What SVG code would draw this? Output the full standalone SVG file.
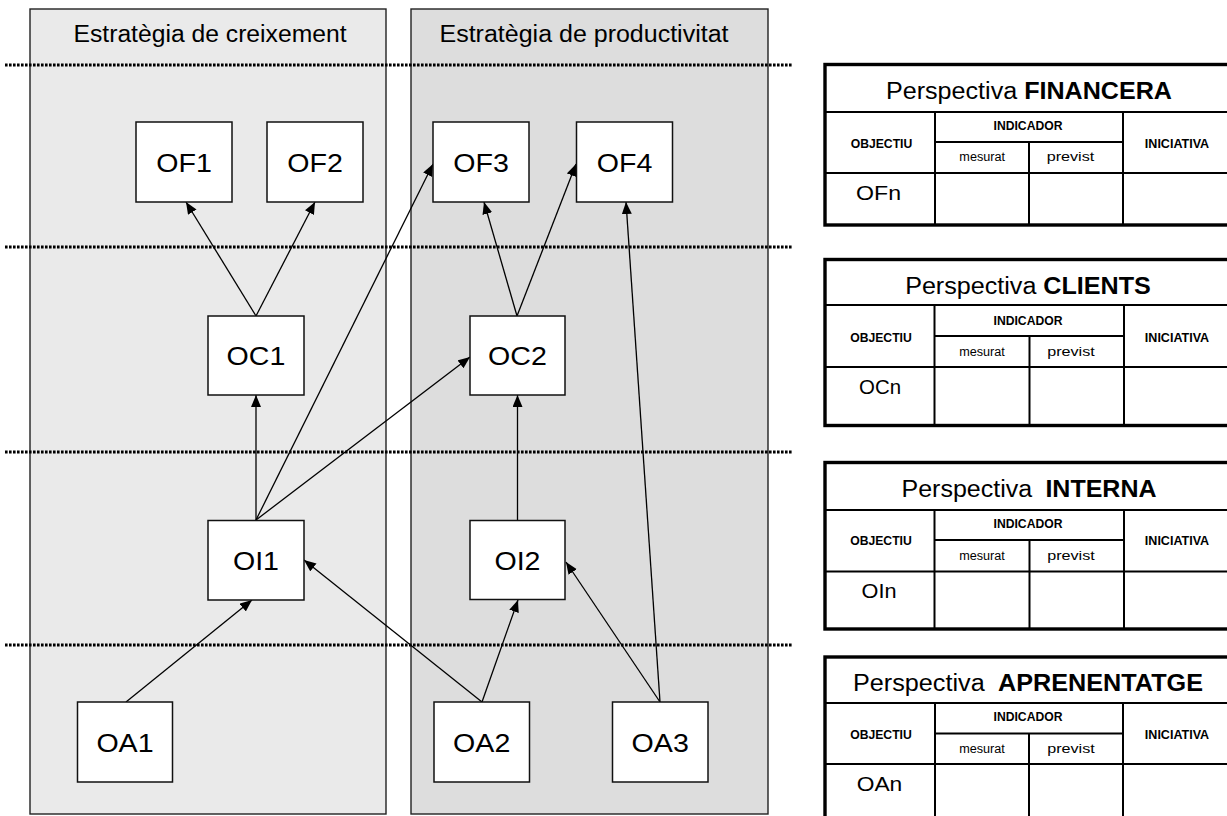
<svg xmlns="http://www.w3.org/2000/svg" width="1227" height="816" viewBox="0 0 1227 816">
  <style>
    .panel { stroke: #222; stroke-width: 1.4; }
    .level { stroke: #000; stroke-width: 2.8; stroke-dasharray: 2.6 1.4; fill: none; }
    .node rect { fill: #fff; stroke: #111; stroke-width: 1.5; }
    .node text, .lbl { font-family: "Liberation Sans", Arial, sans-serif; fill: #000; text-anchor: middle; }
    .node text { font-size: 25.5px; }
    .lbl { font-size: 23px; }
    .edge { stroke: #000; stroke-width: 1.3; fill: none; marker-end: url(#arrow); }
    .tbl .outer { fill: #fff; stroke: #000; stroke-width: 3.4; }
    .tbl line { stroke: #000; stroke-width: 2; }
    .tbl text { font-family: "Liberation Sans", Arial, sans-serif; fill: #000; text-anchor: middle; }
    .tbl .title { font-size: 23.5px; }
    .tbl .hd { font-size: 12.5px; font-weight: bold; }
    .tbl .sub { font-size: 12.5px; }
    .tbl .code { font-size: 21px; }
    .b { font-weight: bold; }
  </style>
  <defs>
    <marker id="arrow" markerUnits="userSpaceOnUse" markerWidth="14" markerHeight="11" refX="12" refY="5" orient="auto">
      <path d="M0,0 L12,5 L0,10 z" fill="#000"/>
    </marker>
  </defs>

  <!-- strategy columns -->
  <g id="panel-creixement">
    <rect class="panel" x="30" y="9" width="356" height="805" fill="#eaeaea"/>
    <text class="lbl" x="210" y="41.5" textLength="273" lengthAdjust="spacingAndGlyphs">Estratègia de creixement</text>
  </g>
  <g id="panel-productivitat">
    <rect class="panel" x="411" y="9" width="357" height="805" fill="#dddddd"/>
    <text class="lbl" x="584" y="42" textLength="289" lengthAdjust="spacingAndGlyphs">Estratègia de productivitat</text>
  </g>

  <!-- perspective separators -->
  <g id="levels">
    <line class="level" x1="5" y1="65" x2="792" y2="65"/>
    <line class="level" x1="5" y1="247" x2="792" y2="247"/>
    <line class="level" x1="5" y1="452" x2="792" y2="452"/>
    <line class="level" x1="5" y1="645" x2="792" y2="645"/>
  </g>

  <!-- cause-effect links -->
  <g id="connectors">
    <line class="edge" x1="256" y1="316" x2="186" y2="202"/>
    <line class="edge" x1="256" y1="316" x2="315" y2="202"/>
    <line class="edge" x1="256" y1="520" x2="256" y2="395"/>
    <line class="edge" x1="256" y1="520" x2="433" y2="164"/>
    <line class="edge" x1="256" y1="520" x2="470" y2="357"/>
    <line class="edge" x1="517" y1="316" x2="484" y2="202"/>
    <line class="edge" x1="517" y1="316" x2="576" y2="164"/>
    <line class="edge" x1="660" y1="702" x2="626" y2="202"/>
    <line class="edge" x1="517.5" y1="520" x2="517.5" y2="395"/>
    <line class="edge" x1="126" y1="702" x2="252" y2="600"/>
    <line class="edge" x1="482" y1="702" x2="304" y2="560"/>
    <line class="edge" x1="482" y1="702" x2="518" y2="600"/>
    <line class="edge" x1="660" y1="702" x2="566" y2="562"/>
  </g>

  <!-- objectives -->
  <g id="OF1" class="node"><rect x="136" y="122" width="96" height="80"/><text x="184" y="172" textLength="55.6" lengthAdjust="spacingAndGlyphs">OF1</text></g>
  <g id="OF2" class="node"><rect x="267" y="122" width="96" height="80"/><text x="315" y="172" textLength="55.6" lengthAdjust="spacingAndGlyphs">OF2</text></g>
  <g id="OF3" class="node"><rect x="433" y="122" width="96" height="80"/><text x="481" y="172" textLength="55.6" lengthAdjust="spacingAndGlyphs">OF3</text></g>
  <g id="OF4" class="node"><rect x="576.5" y="122" width="96" height="80"/><text x="624.5" y="172" textLength="55.6" lengthAdjust="spacingAndGlyphs">OF4</text></g>
  <g id="OC1" class="node"><rect x="208" y="316" width="96" height="79"/><text x="256" y="365" textLength="58.8" lengthAdjust="spacingAndGlyphs">OC1</text></g>
  <g id="OC2" class="node"><rect x="470" y="316" width="95" height="79"/><text x="517.5" y="365" textLength="58.8" lengthAdjust="spacingAndGlyphs">OC2</text></g>
  <g id="OI1" class="node"><rect x="208" y="520.5" width="96" height="79.5"/><text x="256" y="570" textLength="46.1" lengthAdjust="spacingAndGlyphs">OI1</text></g>
  <g id="OI2" class="node"><rect x="470" y="520.5" width="95" height="79"/><text x="517.5" y="570" textLength="46.1" lengthAdjust="spacingAndGlyphs">OI2</text></g>
  <g id="OA1" class="node"><rect x="77.5" y="702" width="95" height="80"/><text x="125" y="751.5" textLength="57.2" lengthAdjust="spacingAndGlyphs">OA1</text></g>
  <g id="OA2" class="node"><rect x="434" y="702" width="95.5" height="80"/><text x="481.7" y="751.5" textLength="57.2" lengthAdjust="spacingAndGlyphs">OA2</text></g>
  <g id="OA3" class="node"><rect x="612.5" y="702" width="95.5" height="80"/><text x="660.2" y="751.5" textLength="57.2" lengthAdjust="spacingAndGlyphs">OA3</text></g>

  <!-- scorecard tables -->
  <g id="table-financera" class="tbl">
    <rect class="outer" x="825" y="64.5" width="410" height="160.5"/>
    <line x1="825" y1="112" x2="1232" y2="112"/>
    <line x1="825" y1="173" x2="1232" y2="173"/>
    <line x1="935" y1="112" x2="935" y2="225"/>
    <line x1="1123" y1="112" x2="1123" y2="225"/>
    <line x1="935" y1="142" x2="1123" y2="142"/>
    <line x1="1029" y1="142" x2="1029" y2="225"/>
    <text class="title" x="1029" y="98.5" textLength="286" lengthAdjust="spacingAndGlyphs">Perspectiva <tspan class="b">FINANCERA</tspan></text>
    <text class="hd" x="1028" y="130" textLength="69" lengthAdjust="spacingAndGlyphs">INDICADOR</text>
    <text class="hd" x="881.5" y="147.5" textLength="61.6" lengthAdjust="spacingAndGlyphs">OBJECTIU</text>
    <text class="hd" x="1177" y="147.5" textLength="64.3" lengthAdjust="spacingAndGlyphs">INICIATIVA</text>
    <text class="sub" x="982.2" y="161" textLength="45.7" lengthAdjust="spacingAndGlyphs">mesurat</text>
    <text class="sub" x="1070.5" y="161" textLength="47.6" lengthAdjust="spacingAndGlyphs">previst</text>
    <text class="code" x="878.5" y="200" textLength="45" lengthAdjust="spacingAndGlyphs">OFn</text>
  </g>

  <g id="table-clients" class="tbl">
    <rect class="outer" x="825" y="259.5" width="410" height="166"/>
    <line x1="825" y1="305" x2="1232" y2="305"/>
    <line x1="825" y1="367" x2="1232" y2="367"/>
    <line x1="934.5" y1="305" x2="934.5" y2="426"/>
    <line x1="1124" y1="305" x2="1124" y2="426"/>
    <line x1="934.5" y1="336" x2="1124" y2="336"/>
    <line x1="1029.5" y1="336" x2="1029.5" y2="426"/>
    <text class="title" x="1028" y="293.5" textLength="245.7" lengthAdjust="spacingAndGlyphs">Perspectiva <tspan class="b">CLIENTS</tspan></text>
    <text class="hd" x="1028" y="324.5" textLength="69" lengthAdjust="spacingAndGlyphs">INDICADOR</text>
    <text class="hd" x="881" y="342" textLength="61.6" lengthAdjust="spacingAndGlyphs">OBJECTIU</text>
    <text class="hd" x="1177" y="342" textLength="64.3" lengthAdjust="spacingAndGlyphs">INICIATIVA</text>
    <text class="sub" x="982" y="356" textLength="45.7" lengthAdjust="spacingAndGlyphs">mesurat</text>
    <text class="sub" x="1071" y="356" textLength="47.6" lengthAdjust="spacingAndGlyphs">previst</text>
    <text class="code" x="880" y="394" textLength="42" lengthAdjust="spacingAndGlyphs">OCn</text>
  </g>

  <g id="table-interna" class="tbl">
    <rect class="outer" x="825" y="462.5" width="410" height="166.5"/>
    <line x1="825" y1="510" x2="1232" y2="510"/>
    <line x1="825" y1="571.5" x2="1232" y2="571.5"/>
    <line x1="934.5" y1="510" x2="934.5" y2="629"/>
    <line x1="1124" y1="510" x2="1124" y2="629"/>
    <line x1="934.5" y1="540" x2="1124" y2="540"/>
    <line x1="1029.5" y1="540" x2="1029.5" y2="629"/>
    <text class="title" x="1029" y="496.5" textLength="255" lengthAdjust="spacingAndGlyphs">Perspectiva <tspan class="b" dx="6">INTERNA</tspan></text>
    <text class="hd" x="1028" y="527.5" textLength="69" lengthAdjust="spacingAndGlyphs">INDICADOR</text>
    <text class="hd" x="881" y="545" textLength="61.6" lengthAdjust="spacingAndGlyphs">OBJECTIU</text>
    <text class="hd" x="1177" y="545" textLength="64.3" lengthAdjust="spacingAndGlyphs">INICIATIVA</text>
    <text class="sub" x="982" y="559.5" textLength="45.7" lengthAdjust="spacingAndGlyphs">mesurat</text>
    <text class="sub" x="1071" y="559.5" textLength="47.6" lengthAdjust="spacingAndGlyphs">previst</text>
    <text class="code" x="879" y="598" textLength="35" lengthAdjust="spacingAndGlyphs">OIn</text>
  </g>

  <g id="table-aprenentatge" class="tbl">
    <rect class="outer" x="825" y="657" width="410" height="170"/>
    <line x1="825" y1="703" x2="1232" y2="703"/>
    <line x1="825" y1="764" x2="1232" y2="764"/>
    <line x1="935" y1="703" x2="935" y2="820"/>
    <line x1="1123" y1="703" x2="1123" y2="820"/>
    <line x1="935" y1="733.5" x2="1123" y2="733.5"/>
    <line x1="1029" y1="733.5" x2="1029" y2="820"/>
    <text class="title" x="1028" y="690.5" textLength="350" lengthAdjust="spacingAndGlyphs">Perspectiva <tspan class="b" dx="6">APRENENTATGE</tspan></text>
    <text class="hd" x="1028" y="721" textLength="69" lengthAdjust="spacingAndGlyphs">INDICADOR</text>
    <text class="hd" x="881" y="738.5" textLength="61.6" lengthAdjust="spacingAndGlyphs">OBJECTIU</text>
    <text class="hd" x="1177" y="738.5" textLength="64.3" lengthAdjust="spacingAndGlyphs">INICIATIVA</text>
    <text class="sub" x="982" y="753" textLength="45.7" lengthAdjust="spacingAndGlyphs">mesurat</text>
    <text class="sub" x="1071" y="753" textLength="47.6" lengthAdjust="spacingAndGlyphs">previst</text>
    <text class="code" x="879.5" y="791" textLength="45.6" lengthAdjust="spacingAndGlyphs">OAn</text>
  </g>
</svg>
